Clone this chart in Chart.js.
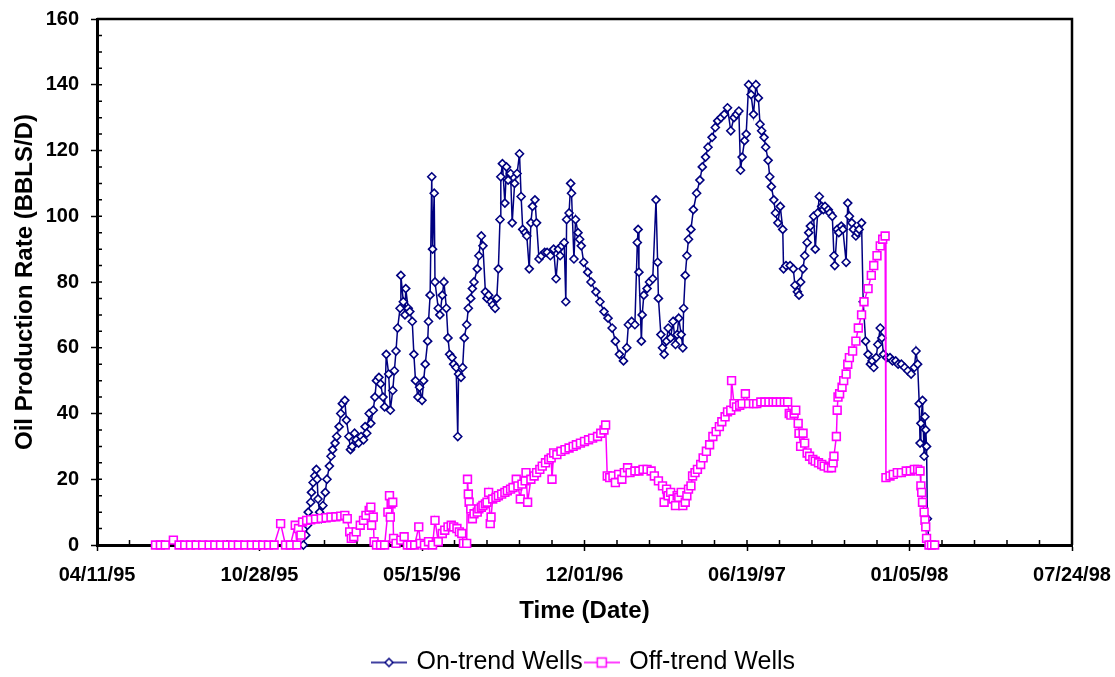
<!DOCTYPE html>
<html>
<head>
<meta charset="utf-8">
<title>Oil Production Rate</title>
<script src="https://cdn.jsdelivr.net/npm/chart.js@4.4.1/dist/chart.umd.min.js"></script>
<style>
  body { margin: 0; background: #fff; }
  canvas { display: block; }
</style>
</head>
<body>
<canvas id="rateChart" width="1115" height="677"></canvas>
<script>
// dates are spreadsheet day serials (34800 = 04/11/95)
const onTrendDays = [
  35054,35057,35059,35060,35063,35064,35066,35068,35070,35071,
  35072,35074,35076,35078,35081,35083,35086,35088,35090,35093,
  35095,35098,35100,35102,35105,35107,35110,35112,35114,35117,
  35119,35122,35125,35128,35130,35132,35135,35137,35140,35142,
  35144,35147,35149,35152,35154,35156,35159,35161,35164,35166,
  35168,35170,35173,35174,35177,35179,35180,35183,35185,35188,
  35190,35192,35195,35197,35200,35202,35204,35207,35208,35210,
  35212,35213,35215,35216,35220,35222,35225,35227,35230,35232,
  35234,35237,35239,35242,35244,35245,35248,35250,35252,35255,
  35257,35260,35262,35264,35268,35270,35273,35275,35278,35280,
  35282,35285,35287,35290,35292,35294,35296,35297,35299,35302,
  35304,35306,35309,35311,35314,35317,35320,35322,35324,35327,
  35329,35332,35334,35336,35339,35341,35344,35347,35351,35354,
  35358,35362,35365,35368,35370,35372,35375,35377,35378,35381,
  35383,35384,35387,35389,35392,35394,35396,35399,35404,35408,
  35414,35419,35424,35429,35434,35438,35443,35448,35452,35454,
  35458,35462,35465,35466,35467,35470,35471,35473,35477,35480,
  35484,35488,35490,35491,35494,35496,35498,35501,35503,35506,
  35509,35512,35514,35516,35519,35521,35522,35524,35526,35528,
  35531,35534,35538,35542,35545,35549,35552,35557,35561,35564,
  35568,35572,35576,35580,35584,35587,35590,35592,35594,35597,
  35599,35602,35605,35608,35611,35614,35616,35618,35621,35623,
  35626,35628,35630,35633,35635,35638,35641,35644,35645,35648,
  35653,35657,35659,35662,35664,35666,35669,35671,35674,35676,
  35678,35682,35684,35687,35689,35692,35694,35696,35700,35702,
  35705,35707,35708,35711,35713,35716,35718,35722,35724,35726,
  35729,35731,35734,35736,35738,35741,35743,35746,35749,35752,
  35754,35756,35759,35761,35764,35766,35768,35772,35776,35779,
  35783,35786,35790,35794,35798,35802,35806,35808,35810,35812,
  35813,35814,35816,35818,35819,35820,35821,35822,35824
];
const onTrendRate = [
  0,3,6,10,13,16,19,21,23,20,
  14,10,8,12,16,20,24,27,29,31,
  33,36,40,43,44,38,33,29,30,34,
  32,31,33,32,36,34,40,37,41,45,
  50,51,49,45,42,58,52,41,47,53,
  59,66,72,82,74,70,78,72,71,68,
  58,50,45,48,44,50,55,62,68,76,
  112,90,107,80,72,70,76,80,72,63,
  58,57,55,54,33,52,51,54,63,67,
  72,75,78,80,84,88,94,91,77,75,
  76,74,73,72,75,84,99,112,116,104,
  115,111,113,98,110,113,119,106,96,95,
  94,84,98,103,105,98,87,88,89,89,
  88,90,81,90,88,91,92,74,99,101,
  110,107,87,99,95,93,91,86,83,80,
  77,74,71,69,66,62,58,56,60,67,
  68,67,92,96,83,62,70,76,78,80,
  81,105,86,75,64,60,58,62,66,63,
  68,61,64,69,64,60,72,82,88,93,
  96,102,107,111,115,118,121,124,127,129,
  130,131,133,126,130,131,132,114,118,123,
  125,140,137,131,140,136,128,126,124,121,
  117,112,109,105,101,98,103,96,84,85,
  85,84,79,77,76,80,84,88,92,95,
  97,100,90,101,106,103,102,103,102,101,
  100,88,85,96,95,97,96,86,104,100,
  98,96,94,95,96,98,74,62,58,55,
  56,54,57,61,66,63,58,57,57,56,
  56,55,55,54,53,52,54,59,55,43,
  31,37,44,27,39,35,30,8,0
];
const offTrendDays = [
  34872,34878,34884,34894,34901,34908,34915,34922,34930,34938,
  34945,34952,34960,34967,34974,34982,34990,34997,35004,35011,
  35018,35026,35032,35038,35044,35046,35048,35051,35053,35058,
  35063,35069,35076,35082,35088,35094,35100,35105,35108,35111,
  35113,35116,35119,35124,35128,35131,35135,35137,35138,35140,
  35141,35144,35149,35154,35158,35160,35161,35162,35164,35165,
  35168,35174,35178,35182,35186,35191,35196,35198,35203,35208,
  35213,35216,35220,35225,35228,35232,35236,35239,35243,35246,
  35249,35251,35255,35256,35257,35258,35260,35262,35264,35268,
  35270,35273,35275,35278,35280,35282,35284,35285,35287,35291,
  35294,35298,35302,35305,35309,35312,35316,35318,35321,35323,
  35327,35328,35330,35334,35338,35341,35345,35348,35352,35356,
  35359,35360,35362,35366,35371,35376,35381,35386,35390,35395,
  35400,35405,35410,35416,35420,35424,35426,35428,35431,35435,
  35438,35442,35446,35449,35453,35456,35462,35467,35472,35477,
  35482,35486,35491,35496,35498,35501,35503,35506,35509,35512,
  35514,35516,35519,35521,35524,35526,35528,35531,35533,35536,
  35539,35543,35546,35550,35554,35558,35562,35566,35569,35573,
  35576,35580,35581,35584,35587,35591,35594,35598,35602,35608,
  35612,35617,35622,35627,35632,35636,35641,35646,35650,35652,
  35654,35658,35660,35663,35664,35666,35669,35671,35674,35677,
  35681,35684,35688,35692,35695,35700,35704,35706,35707,35710,
  35711,35712,35714,35717,35719,35722,35724,35726,35730,35734,
  35737,35741,35744,35749,35753,35756,35760,35764,35767,35770,
  35771,35776,35780,35785,35790,35796,35801,35806,35810,35813,
  35814,35815,35816,35818,35819,35820,35821,35824,35827,35831
];
const offTrendRate = [
  0,0,0,1.5,0,0,0,0,0,0,
  0,0,0,0,0,0,0,0,0,0,
  0,6.5,0,0,6,0,5,3,7,7.5,
  7.7,7.9,8.1,8.3,8.5,8.6,8.8,9,8,4,
  2,2.5,4,6,7.5,9,10.5,11.5,6,8.5,
  1,0,0,0,10,15,8.5,12.5,13,2,
  0.5,1.5,2.5,0,0,0,5.5,0.5,0,1,
  0,7.5,1,3.5,4.5,5.5,6,5.5,5,4,
  3.5,0.5,0.5,20,15.5,13,11,8,9.5,10,
  11,11.5,12,12.5,13,16,6.5,8.5,14,14.5,
  15,15.5,16,16.5,17,17.5,20,18,14,18.5,
  19.5,22,13,20,21,22,23,24,25,26,
  26.5,20,28,27.5,28.5,29,29.5,30,30.5,31,
  31.5,32,32.5,33,34,35,36.5,21,20.5,21,
  19,21.5,20,22,23.5,22,22.5,22.5,23,23,
  22.5,21,19.5,18,13,17,15,16,14,12,
  15,14.5,16,12,13,15,17,18,21,22,
  23,24.5,26.5,28.5,30.5,33,34.5,36,37.5,39,
  40.5,41,50,43,42,42.5,43,46,43,43,
  43,43.5,43.5,43.5,43.5,43.5,43.5,43.5,43.5,40,
  39.5,40,41,37,34,30,34,31,28,27,
  26,25.5,25,24.5,24,23.5,23.5,25,27,33,
  41,45,46,48,50,52,55,57,59,62,
  66,70,74,78,82,85,88,91,93,94,
  20.5,21,21.5,22,22,22.5,22.5,23,23,22.5,
  18,16,13,10,7.5,5.5,2,0,0,0
];

const seriesNames = ['On-trend Wells', 'Off-trend Wells'];

const xFirst = 34800;   // 04/11/95
const xLast = 36000;    // 07/24/98
const xMajor = 200;
const xMinor = 40;
const yMax = 160;
const yMajor = 20;
const yMinor = 5;

const navy = '#000080';
const magenta = '#FF00FF';
const FONT = '"Liberation Sans", Arial, Helvetica, sans-serif';

function serialToLabel(n) {
  const d = new Date(Date.UTC(1899, 11, 30) + n * 86400000);
  const pad = v => String(v).padStart(2, '0');
  return pad(d.getUTCMonth() + 1) + '/' + pad(d.getUTCDate()) + '/' + pad(d.getUTCFullYear() % 100);
}

function toPoints(days, rates) {
  return days.map((d, i) => ({ x: d, y: rates[i] }));
}

// little "line with marker" pictures for the legend
function legendSymbol(color, shape) {
  const c = document.createElement('canvas');
  c.width = 36;
  c.height = 14;
  const g = c.getContext('2d');
  g.strokeStyle = color;
  g.lineWidth = 1.5;
  g.beginPath();
  g.moveTo(0, 7);
  g.lineTo(36, 7);
  g.stroke();
  g.fillStyle = '#fff';
  g.beginPath();
  if (shape === 'rectRot') {
    g.moveTo(18, 3); g.lineTo(22, 7); g.lineTo(18, 11); g.lineTo(14, 7); g.closePath();
  } else {
    g.rect(13.5, 2.5, 9, 9);
  }
  g.fill();
  g.stroke();
  return c;
}

const legendSymbols = [legendSymbol(navy, 'rectRot'), legendSymbol(magenta, 'rect')];

// minor ticks pointing into the plot, plus the top/right frame
const axisFrame = {
  id: 'axisFrame',
  beforeDatasetsDraw(chart) {
    const { ctx, chartArea: a, scales: { x, y } } = chart;
    ctx.save();
    ctx.strokeStyle = '#000';
    ctx.lineWidth = 1.5;
    ctx.beginPath();
    for (let d = xFirst; d <= xLast; d += xMinor) {
      const px = x.getPixelForValue(d);
      ctx.moveTo(px, a.bottom);
      ctx.lineTo(px, a.bottom - 5);
    }
    for (let v = 0; v <= yMax; v += yMinor) {
      const py = y.getPixelForValue(v);
      ctx.moveTo(a.left, py);
      ctx.lineTo(a.left + 5, py);
    }
    ctx.stroke();
    ctx.lineWidth = 2.5;
    ctx.beginPath();
    ctx.moveTo(a.left, a.top);
    ctx.lineTo(a.right, a.top);
    ctx.lineTo(a.right, a.bottom);
    ctx.stroke();
    ctx.restore();
  }
};

const tickFont = { family: FONT, size: 20, weight: 'bold' };
const titleFont = { family: FONT, size: 24, weight: 'bold' };

new Chart(document.getElementById('rateChart'), {
  type: 'line',
  data: {
    datasets: [
      {
        label: seriesNames[0],
        data: toPoints(onTrendDays, onTrendRate),
        borderColor: navy,
        backgroundColor: '#fff',
        borderWidth: 1.5,
        pointStyle: 'rectRot',
        pointRadius: 4,
        pointBorderWidth: 1.6,
        pointBorderColor: navy,
        pointBackgroundColor: '#fff',
        tension: 0,
        clip: false,
        order: 1
      },
      {
        label: seriesNames[1],
        data: toPoints(offTrendDays, offTrendRate),
        borderColor: magenta,
        backgroundColor: '#fff',
        borderWidth: 1.5,
        pointStyle: 'rect',
        pointRadius: 5.5,
        pointBorderWidth: 1.6,
        pointBorderColor: magenta,
        pointBackgroundColor: '#fff',
        tension: 0,
        clip: false,
        order: 0
      }
    ]
  },
  options: {
    responsive: false,
    animation: false,
    layout: { padding: { left: 0, right: 43, top: 19, bottom: -8 } },
    plugins: {
      tooltip: { enabled: false },
      legend: {
        position: 'bottom',
        fullSize: false,
        labels: {
          usePointStyle: true,
          pointStyleWidth: 30,
          boxHeight: 14,
          padding: 4,
          color: '#000',
          font: { family: FONT, size: 25 },
          generateLabels: chart => chart.data.datasets.map((ds, i) => ({
            text: ds.label,
            datasetIndex: i,
            pointStyle: legendSymbols[i],
            fillStyle: '#fff',
            strokeStyle: ds.borderColor,
            lineWidth: 0,
            hidden: false,
            fontColor: '#000'
          }))
        }
      }
    },
    scales: {
      x: {
        type: 'linear',
        min: xFirst,
        max: xLast,
        afterFit: s => {
          s.height = 101;
          s.paddingLeft = 0;
          s.paddingRight = 0;
        },
        ticks: {
          stepSize: xMajor,
          autoSkip: false,
          maxRotation: 0,
          padding: 12,
          color: '#000',
          font: tickFont,
          callback: v => serialToLabel(v)
        },
        grid: { drawOnChartArea: false, tickLength: 6, tickWidth: 1.5, tickColor: '#000' },
        border: { color: '#000', width: 3 },
        title: {
          display: true,
          text: 'Time (Date)',
          color: '#000',
          font: titleFont,
          padding: { top: 0, bottom: 20 }
        }
      },
      y: {
        min: 0,
        max: yMax,
        afterFit: s => {
          s.width = 97;
          s.paddingTop = 0;
          s.paddingBottom = 0;
        },
        ticks: { stepSize: yMajor, padding: 12, color: '#000', font: tickFont },
        grid: { drawOnChartArea: false, tickLength: 6, tickWidth: 1.5, tickColor: '#000' },
        border: { color: '#000', width: 3 },
        title: {
          display: true,
          text: 'Oil Production Rate (BBLS/D)',
          color: '#000',
          font: titleFont,
          padding: { top: 11, bottom: 0 }
        }
      }
    }
  },
  plugins: [axisFrame]
});
</script>
</body>
</html>
